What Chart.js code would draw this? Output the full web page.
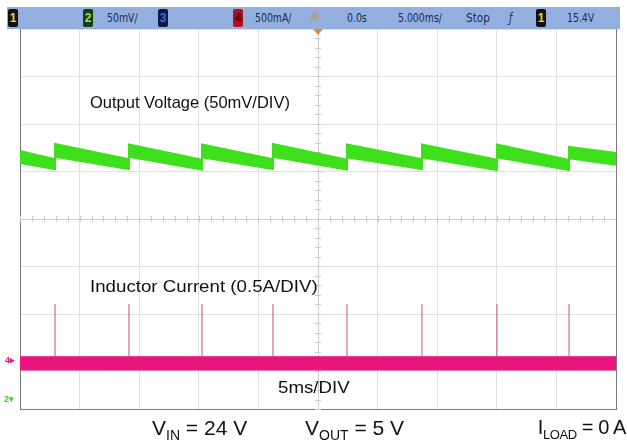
<!DOCTYPE html>
<html>
<head>
<meta charset="utf-8">
<script src="https://cdn.jsdelivr.net/npm/chart.js@4.4.0/dist/chart.umd.min.js"></script>
<style>
  body { margin: 0; background: #fff; }
  #wrap { position: relative; width: 627px; height: 442px; overflow: hidden; font-family: "Liberation Sans", Arial, sans-serif; }
  #scope { position: absolute; left: 0; top: 0; }
  .bar { position: absolute; left: 7px; top: 7px; width: 613px; height: 22px; background: #93afdf; }
  .bar span { position: absolute; top: 3px; font: 13px "DejaVu Sans Condensed", sans-serif; color: #1c2b52; transform: scaleX(0.8); transform-origin: 0 50%; }
  .bar .ch { top: 2px; width: 10px; height: 18px; border-radius: 2px; text-align: center; font: bold 12px "Liberation Sans", sans-serif; line-height: 18px; transform: none; }
  .note { position: absolute; color: #111; white-space: nowrap; transform-origin: 0 50%; }
  .foot { position: absolute; top: 416px; font-size: 21px; color: #111; white-space: nowrap; }
  .foot sub { font-size: 14px; vertical-align: -5px; }
  .mark { position: absolute; font: bold 9px "Liberation Sans", sans-serif; }
</style>
</head>
<body>
<div id="wrap">
  <canvas id="scope" width="627" height="442"></canvas>
  <div class="bar">
    <span class="ch" style="left:1px;background:#111;color:#e6d830">1</span>
    <span class="ch" style="left:76px;background:#173d10;color:#8fe36a">2</span>
    <span style="left:100px">50mV/</span>
    <span class="ch" style="left:151px;background:#10184a;color:#4b6ad8">3</span>
    <span class="ch" style="left:226px;background:#b01020;color:#3a0008">4</span>
    <span style="left:248px">500mA/</span>
    <span style="left:302px;top:1px;font-size:15px;color:#d08020;transform:none">☼</span>
    <span style="left:340px">0.0s</span>
    <span style="left:391px">5.000ms/</span>
    <span style="left:459px;transform:scaleX(0.9)">Stop</span>
    <span style="left:502px;font-style:italic">ƒ</span>
    <span class="ch" style="left:529px;background:#111;color:#e6d830">1</span>
    <span style="left:560px">15.4V</span>
  </div>
  <div class="note" style="left:90px;top:93px;font-size:16.5px">Output Voltage (50mV/DIV)</div>
  <div class="note" style="left:90px;top:277px;font-size:17px;transform:scaleX(1.1)">Inductor Current (0.5A/DIV)</div>
  <div class="note" style="left:278px;top:378px;font-size:17px;transform:scaleX(1.1)">5ms/DIV</div>
  <div class="mark" style="left:5px;top:355px;color:#e6157b">4▸</div>
  <div class="mark" style="left:4px;top:394px;color:#3ecf22">2▾</div>
  <div class="foot" style="left:152px">V<sub>IN</sub> = 24 V</div>
  <div class="foot" style="left:305px">V<sub>OUT</sub> = 5 V</div>
  <div class="foot" style="right:1px;font-size:20px;letter-spacing:-0.4px">I<sub style="font-size:13px">LOAD</sub> = 0 A</div>
</div>
<script>
// Scope screen: 10 div x 5 ms horizontally, 8 div vertically (values in divisions)
const timeTicks = [0, 5, 10, 15, 20, 25, 30, 35, 40, 45, 50];
const divTicks = [-4, -3, -2, -1, 0, 1, 2, 3, 4];

// Output voltage ripple band (upper / lower edge of the noisy trace)
const jumpTimes = [2.94, 9.14, 15.27, 21.22, 27.43, 33.72, 40.01, 46.06];
const vTopBefore = [1.26, 1.26, 1.25, 1.26, 1.25, 1.26, 1.25, 1.24];
const vBotBefore = [1.05, 1.05, 1.04, 1.05, 1.04, 1.05, 1.03, 1.03];
const vTopAfter = [1.58, 1.57, 1.57, 1.58, 1.57, 1.57, 1.57, 1.52];
const vBotAfter = [1.31, 1.31, 1.30, 1.31, 1.30, 1.30, 1.30, 1.28];
const vTopEnds = [1.43, 1.39];  // at t=0 and t=50
const vBotEnds = [1.18, 1.14];

// Inductor current: baseline band and spikes at each switching burst
const iTopBand = [-2.90, -2.90];
const iBotBand = [-3.18, -3.18];
const spikeTimes = [2.94, 9.14, 15.27, 21.22, 27.43, 33.72, 40.01, 46.06];
const spikePeaks = [-1.79, -1.79, -1.79, -1.79, -1.79, -1.79, -1.79, -1.79];

function sawEdge(ends, before, after) {
  const pts = [{ x: 0, y: ends[0] }];
  jumpTimes.forEach((t, i) => {
    pts.push({ x: t, y: before[i] });
    pts.push({ x: t, y: after[i] });
  });
  pts.push({ x: 50, y: ends[1] });
  return pts;
}

const spikePts = [];
spikeTimes.forEach((t, i) => {
  spikePts.push({ x: t, y: iTopBand[0] });
  spikePts.push({ x: t, y: spikePeaks[i] });
  spikePts.push({ x: t, y: null });
});

const GREEN = '#3de01a';
const PINK = '#e8157c';

// small tick marks along the centre cross, right frame edge, trigger marker
const centerTicks = {
  id: 'centerTicks',
  beforeDatasetsDraw(chart) {
    const { ctx, chartArea: a, scales: { x, y } } = chart;
    const cx = x.getPixelForValue(25), cy = y.getPixelForValue(0);
    ctx.save();
    ctx.strokeStyle = '#cacaca';
    ctx.lineWidth = 1;
    ctx.beginPath();
    for (let v = 0; v <= 50.001; v += 1) {
      const px = Math.round(x.getPixelForValue(v)) + 0.5;
      ctx.moveTo(px, cy - 3); ctx.lineTo(px, cy + 3);
    }
    for (let v = -4; v <= 4.001; v += 0.2) {
      const py = Math.round(y.getPixelForValue(v)) + 0.5;
      ctx.moveTo(cx - 3, py); ctx.lineTo(cx + 3, py);
    }
    ctx.stroke();
    ctx.strokeStyle = '#7a7a7a';
    ctx.beginPath();
    ctx.moveTo(a.right + 0.5, a.top); ctx.lineTo(a.right + 0.5, a.bottom);
    ctx.stroke();
    ctx.fillStyle = '#e08a2a';
    ctx.beginPath();
    ctx.moveTo(cx - 5, a.top); ctx.lineTo(cx + 5, a.top); ctx.lineTo(cx, a.top + 6);
    ctx.fill();
    ctx.restore();
  }
};

new Chart(document.getElementById('scope'), {
  type: 'line',
  data: {
    datasets: [
      { data: sawEdge(vTopEnds, vTopBefore, vTopAfter), borderColor: GREEN, borderWidth: 2, backgroundColor: GREEN, fill: '+1', pointRadius: 0, tension: 0 },
      { data: sawEdge(vBotEnds, vBotBefore, vBotAfter), borderColor: GREEN, borderWidth: 2, pointRadius: 0, tension: 0, fill: false },
      { data: spikePts, borderColor: '#c8507f', borderWidth: 1, pointRadius: 0, spanGaps: false, fill: false },
      { data: [{ x: 0, y: iTopBand[0] }, { x: 50, y: iTopBand[1] }], borderColor: PINK, borderWidth: 1, backgroundColor: PINK, fill: '+1', pointRadius: 0 },
      { data: [{ x: 0, y: iBotBand[0] }, { x: 50, y: iBotBand[1] }], borderColor: '#d0106c', borderWidth: 1, pointRadius: 0, fill: false }
    ]
  },
  options: {
    responsive: false,
    animation: false,
    devicePixelRatio: 1,
    layout: { padding: { left: 20, right: 11, top: 29, bottom: 33 } },
    plugins: { legend: { display: false }, tooltip: { enabled: false } },
    scales: {
      x: {
        type: 'linear', min: 0, max: 50,
        afterBuildTicks: s => { s.ticks = timeTicks.map(v => ({ value: v })); },
        ticks: { display: false },
        grid: { drawTicks: false, color: c => (c.tick && c.tick.value === 25 ? '#cdcdcd' : '#e0e0e0') },
        border: { color: '#7a7a7a', width: 1 }
      },
      y: {
        type: 'linear', min: -4, max: 4,
        afterBuildTicks: s => { s.ticks = divTicks.map(v => ({ value: v })); },
        ticks: { display: false },
        grid: { drawTicks: false, color: c => (c.tick && c.tick.value === 0 ? '#cdcdcd' : '#e0e0e0') },
        border: { color: '#7a7a7a', width: 1 }
      }
    }
  },
  plugins: [centerTicks]
});
</script>
</body>
</html>
